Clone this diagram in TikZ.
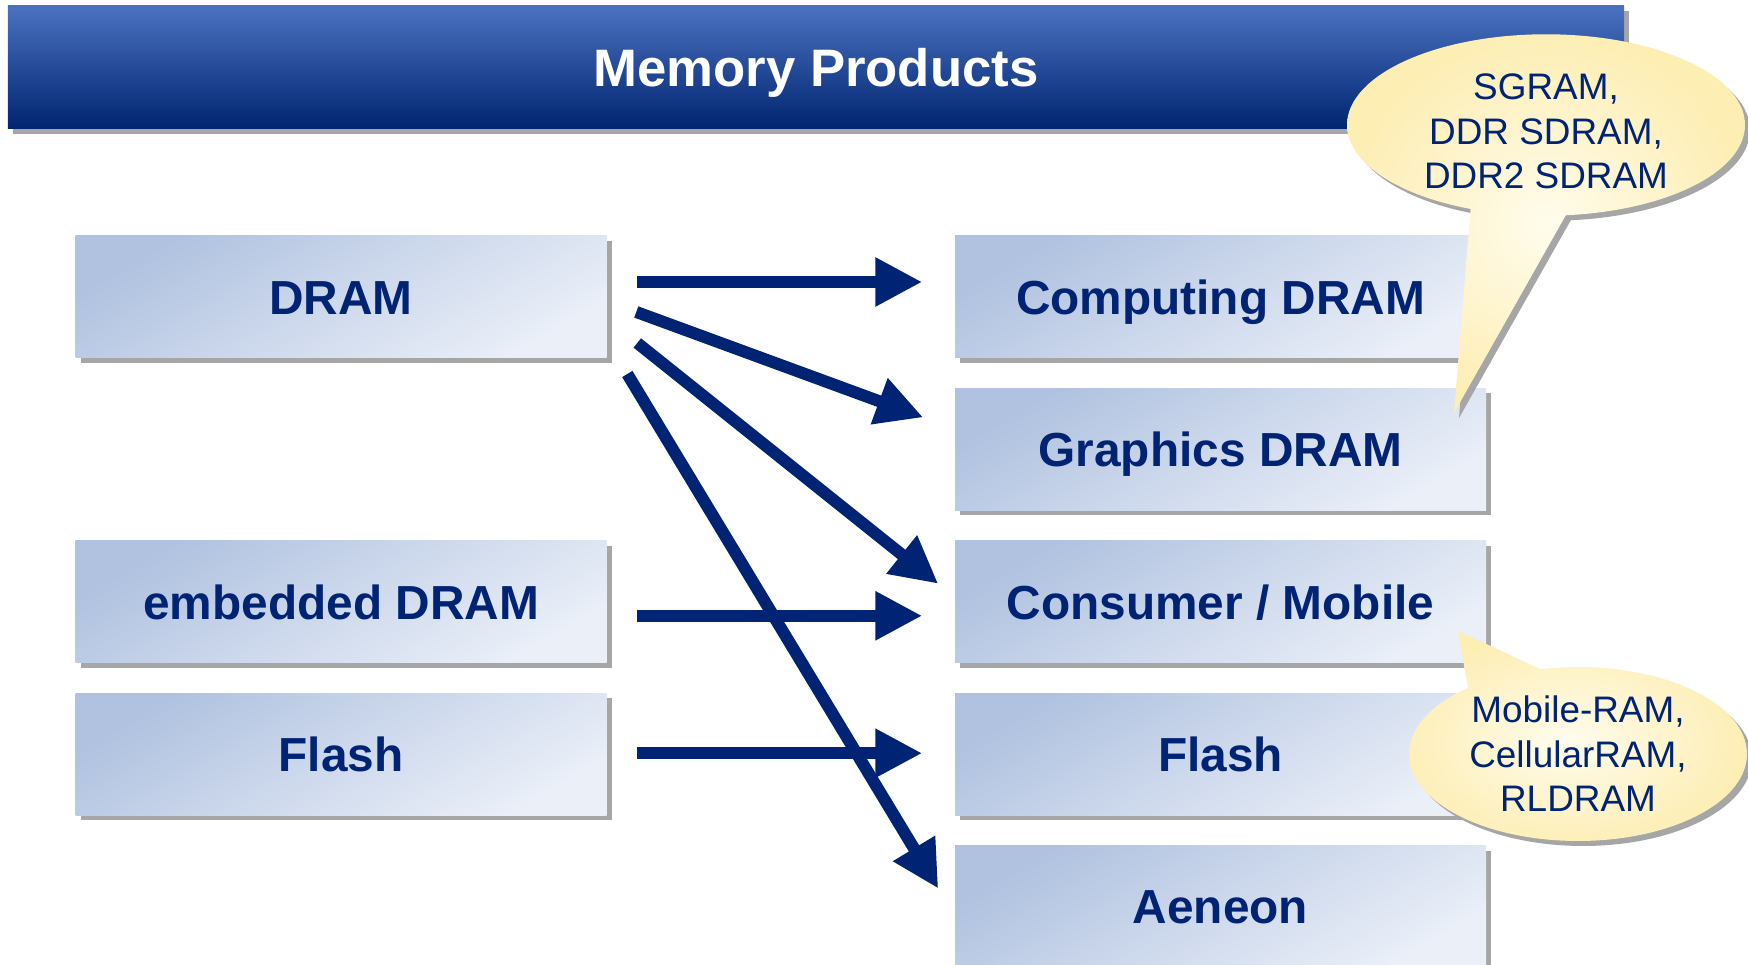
\documentclass[tikz,border=0pt]{standalone}
\usepackage{fontspec}
\setmainfont{Liberation Sans}
\usepackage{tikz}
\usetikzlibrary{positioning, arrows.meta, shapes.geometric, shapes.callouts, shadows, calc}

\definecolor{memnavy}{RGB}{0,35,115}
\definecolor{bartop}{RGB}{74,114,192}
\definecolor{barbottom}{RGB}{0,36,112}
\definecolor{boxdark}{RGB}{176,194,224}
\definecolor{boxlight}{RGB}{234,239,248}
\definecolor{bubblelight}{RGB}{255,252,236}
\definecolor{bubbledark}{RGB}{253,238,180}
\definecolor{shadowgray}{RGB}{166,166,166}

\begin{document}
\begin{tikzpicture}[scale=1]
	\tikzset{
		memshadow/.style={drop shadow={shadow xshift=0.05cm, shadow yshift=-0.05cm, fill=shadowgray, opacity=1}},
		titlebar/.style={rectangle, memshadow, top color=bartop, bottom color=barbottom, minimum width=16.16cm, minimum height=1.23cm, text=white, text height=10.8pt, text depth=0pt, font=\fontsize{15}{18}\selectfont\bfseries},
		prodbox/.style={rectangle, memshadow, top color=boxdark, bottom color=boxlight, shading angle=30, minimum width=5.31cm, minimum height=1.22cm, text=memnavy, text height=9.8pt, text depth=0pt, font=\fontsize{13.6}{16}\selectfont\bfseries},
		bubble/.style={ellipse callout, memshadow, inner color=bubblelight, outer color=bubbledark, inner sep=0pt, align=center, text=memnavy, font=\fontsize{10.5}{12.7}\selectfont, callout pointer arc=28},
		fat arrow/.style={draw=memnavy, line width=0.12cm, -{Triangle[length=0.47cm, width=0.46cm]}}
	}
	\useasboundingbox (0,0) rectangle (17.48,-9.65);
	% title
	\node[titlebar] (title) at (8.16,-0.675) {Memory Products};
	% product columns
	\node[prodbox] (computing) at (12.205,-2.97) {Computing DRAM};
	\node[prodbox, below=0.29cm of computing] (graphics) {Graphics DRAM};
	\node[prodbox, below=0.29cm of graphics] (consumer) {Consumer / Mobile};
	\node[prodbox, below=0.29cm of consumer] (rflash) {Flash};
	\node[prodbox, below=0.29cm of rflash] (aeneon) {Aeneon};
	\node[prodbox, left=3.47cm of computing] (dram) {DRAM};
	\node[prodbox, left=3.47cm of consumer] (edram) {embedded DRAM};
	\node[prodbox, left=3.47cm of rflash] (lflash) {Flash};
	% arrows
	\draw[fat arrow] ($(edram.east)+(0.30,-0.14)$) -- ($(consumer.west)+(-0.32,-0.14)$);
	\draw[fat arrow] ($(lflash.east)+(0.30,0.01)$) -- ($(rflash.west)+(-0.32,0.01)$);
	\draw[fat arrow] ($(dram.east)+(0.30,0.15)$) -- ($(computing.west)+(-0.32,0.15)$);
	\draw[fat arrow] ($(dram.east)+(0.29,-0.15)$) -- ($(graphics.west)+(-0.31,0.32)$);
	\draw[fat arrow] ($(dram.east)+(0.30,-0.46)$) -- ($(consumer.west)+(-0.16,0.18)$);
	\draw[fat arrow] ($(dram.east)+(0.20,-0.77)$) -- ($(aeneon.west)+(-0.16,0.18)$);
	% callouts
	\node[bubble, minimum width=3.98cm, minimum height=1.70cm, callout absolute pointer={(14.54,-4.13)}] (dramtypes) at (15.46,-1.25) {\rule{0pt}{11pt}SGRAM,\\DDR SDRAM,\\DDR2 SDRAM};
	\node[bubble, minimum width=3.38cm, minimum height=1.74cm, callout absolute pointer={(14.58,-6.31)}] (mobiletypes) at (15.78,-7.54) {Mobile-RAM,\\CellularRAM,\\RLDRAM};
\end{tikzpicture}
\end{document}
